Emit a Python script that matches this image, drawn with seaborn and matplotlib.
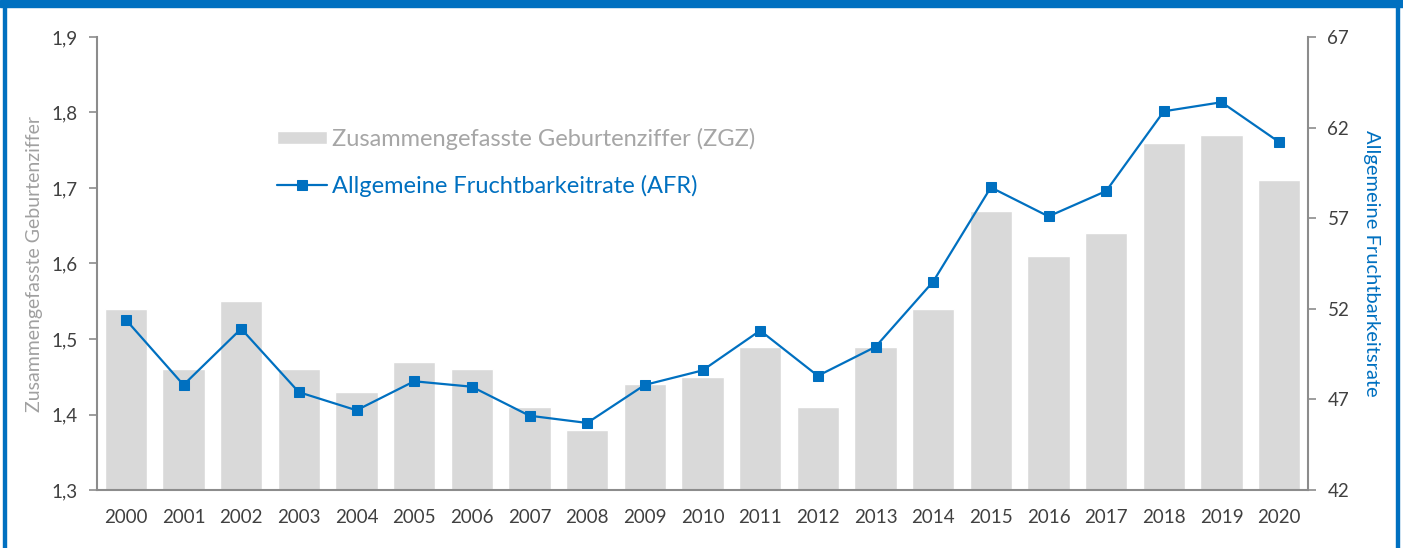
import matplotlib
matplotlib.use('Agg')
import matplotlib.pyplot as plt
import matplotlib.ticker as mticker
from matplotlib.patches import Rectangle
import seaborn as sns

years = [str(y) for y in range(2000, 2021)]
zgz = [1.54, 1.46, 1.55, 1.46, 1.43, 1.47, 1.46, 1.41, 1.38, 1.44, 1.45,
       1.49, 1.41, 1.49, 1.54, 1.67, 1.61, 1.64, 1.76, 1.77, 1.71]
afr = [51.4, 47.8, 50.9, 47.4, 46.4, 48.0, 47.7, 46.1, 45.7, 47.8, 48.6,
       50.8, 48.3, 49.9, 53.5, 58.7, 57.1, 58.5, 62.9, 63.4, 61.2]

blue = '#0070C0'
grey_bar = '#d9d9d9'
spine_c = '#8c8c8c'
text_c = '#404040'

sns.set_style('white')
plt.rcParams['font.family'] = ['Lato', 'DejaVu Sans']

fig = plt.figure(figsize=(14.03, 5.48), dpi=100)
ax = fig.add_axes([97 / 1403, 1 - 490 / 548, 1211 / 1403, 453 / 548])

sns.barplot(x=years, y=zgz, color=grey_bar, width=0.73, saturation=1,
            ax=ax, label='Zusammengefasste Geburtenziffer (ZGZ)')
ax.set_ylim(1.3, 1.9)
ax.set_xlim(-0.5, 20.5)
ax.yaxis.set_major_locator(mticker.MultipleLocator(0.1))
ax.yaxis.set_major_formatter(mticker.FuncFormatter(lambda v, p: f'{v:.1f}'.replace('.', ',')))

ax2 = ax.twinx()
sns.lineplot(x=years, y=afr, color=blue, marker='s', markersize=6.5,
             markeredgecolor=blue, linewidth=1.6, sort=False, ax=ax2,
             label='Allgemeine Fruchtbarkeitrate (AFR)')
ax2.set_ylim(42, 67)
ax2.set_yticks([42, 47, 52, 57, 62, 67])
ax2.set_xlim(-0.5, 20.5)

# x ticks: labels at categories, marks at boundaries
ax.set_xticks(range(21))
ax.set_xticklabels(years)
ax.set_xticks([i - 0.5 for i in range(22)], minor=True)
ax.tick_params(axis='x', which='major', length=0, pad=14, labelsize=13.5, colors=text_c)
ax.tick_params(axis='x', which='minor', length=6, width=1.2, color=spine_c, direction='out')
ax.tick_params(axis='y', length=6, width=1.2, color=spine_c, labelsize=13.5,
               labelcolor=text_c, pad=8, left=True)
ax2.tick_params(axis='y', length=6, width=1.2, color=spine_c, labelsize=13.5,
                labelcolor=text_c, pad=8, right=True)

for a in (ax, ax2):
    for s in a.spines.values():
        s.set_visible(False)
    a.grid(False)
ax.spines['left'].set_visible(True)
ax.spines['bottom'].set_visible(True)
ax2.spines['right'].set_visible(True)
for s in (ax.spines['left'], ax.spines['bottom'], ax2.spines['right']):
    s.set_color(spine_c)
    s.set_linewidth(1.5)

ax.set_xlabel('')
ax.set_ylabel('Zusammengefasste Geburtenziffer', color='#a0a0a0', fontsize=14, labelpad=6)
ax2.set_ylabel('Allgemeine Fruchtbarkeitsrate', color=blue, fontsize=14.5,
               rotation=-90, labelpad=22)

h1, l1 = ax.get_legend_handles_labels()
h2, l2 = ax2.get_legend_handles_labels()
if ax2.get_legend():
    ax2.get_legend().remove()
leg = ax.legend(h1 + h2, l1 + l2, loc='center left', bbox_to_anchor=(0.1486, 0.723),
                frameon=False, fontsize=17, handlelength=2.1, handleheight=0.5,
                labelspacing=1.05, handletextpad=0.25, borderpad=0, borderaxespad=0)
leg.get_texts()[0].set_color('#a6a6a6')
leg.get_texts()[1].set_color(blue)

# blue frame around the figure
fig.patches.append(Rectangle((0, 1 - 7 / 548), 1, 7 / 548, transform=fig.transFigure,
                             color=blue, zorder=10))
fig.patches.append(Rectangle((3 / 1403, 0), 2.5 / 1403, 1, transform=fig.transFigure,
                             color=blue, zorder=10))
fig.patches.append(Rectangle((1396 / 1403, 0), 2.5 / 1403, 1, transform=fig.transFigure,
                             color=blue, zorder=10))

fig.savefig('out.png', dpi=100)
